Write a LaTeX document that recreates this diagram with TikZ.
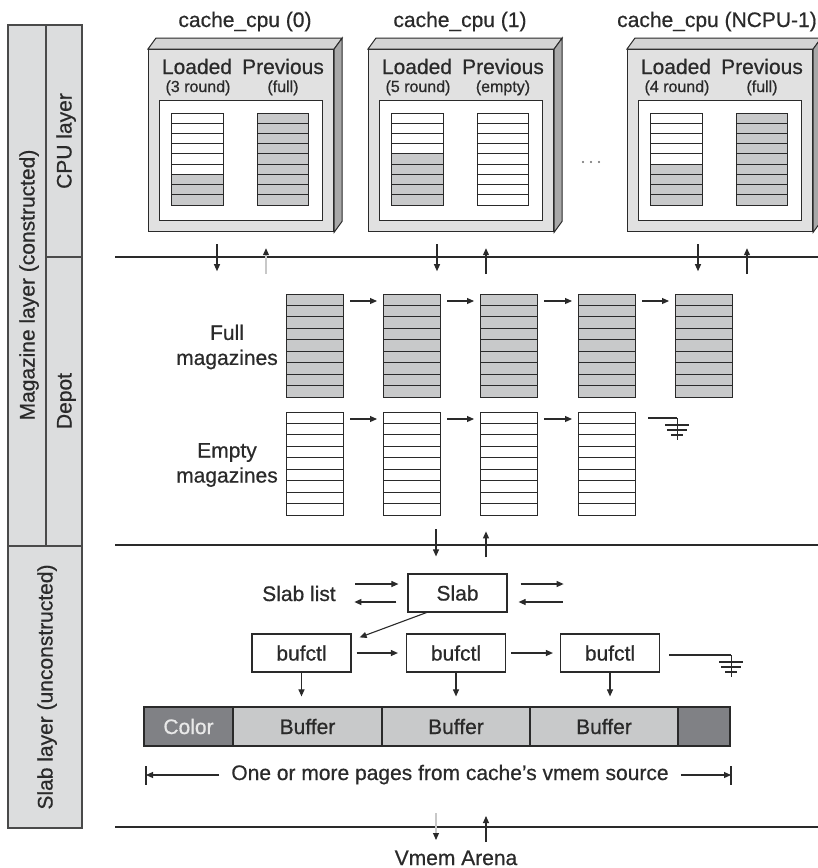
\documentclass[tikz,border=0pt]{standalone}
\usepackage{fontspec}
\setmainfont{Liberation Sans}[UprightFeatures={FakeBold=0.6}]
\usetikzlibrary{arrows.meta,calc}

\definecolor{ink}{HTML}{2A2A2A}
\definecolor{panel}{HTML}{DCDDDE}
\definecolor{panelline}{HTML}{4A4A4A}
\definecolor{frontface}{HTML}{E1E1E1}
\definecolor{topface}{HTML}{D4D4D4}
\definecolor{sideface}{HTML}{A8A8A8}
\definecolor{magfill}{HTML}{C8C9CA}
\definecolor{colorcell}{HTML}{808185}
\definecolor{colortext}{HTML}{E8E8E8}
\definecolor{faint}{HTML}{C8C8C8}

% A magazine: nine rounds stacked top to bottom, the lowest #6 of them loaded (grey).
% #1 name, #2 left, #3 top, #4 width, #5 height, #6 loaded rounds
\newcommand\magstack[6]{%
  \foreach \k in {0,...,8}{%
    \pgfmathsetmacro\ya{#3+\k*#5/9}%
    \pgfmathsetmacro\yb{#3+(\k+1)*#5/9}%
    \ifnum\k<\numexpr9-#6\relax\def\rowfill{white}\else\def\rowfill{magfill}\fi
    \filldraw[magrow, fill=\rowfill] (#2,\ya) rectangle (#2+#4,\yb);
  }%
  \node[magframe, minimum width=#4pt, minimum height=#5pt, anchor=north west] (#1) at (#2,#3) {};%
}

% A per-CPU cache drawn as a bevelled box holding the loaded and previous magazines.
% #1 name, #2 left edge, #3 title, #4 title centre, #5 loaded note, #6 previous note,
% #7 rounds in loaded, #8 rounds in previous
\newcommand\cpubox[8]{%
  \node[cpufront, anchor=north west] (#1) at (#2,49) {};
  \filldraw[cpuedge, fill=topface] (#1.north west) -- ++(8,-11) -- ($(#1.north east)+(8,-11)$) -- (#1.north east) -- cycle;
  \filldraw[cpuedge, fill=sideface] (#1.north east) -- ++(8,-11) -- ($(#1.south east)+(8,-11)$) -- (#1.south east) -- cycle;
  \node[cpuinner, anchor=north west] (#1in) at (#2+11,100) {};
  \magstack{#1ld}{#2+23}{113}{52}{92}{#7}
  \magstack{#1pv}{#2+109}{113}{51}{92}{#8}
  \node[big, anchor=base] (#1t) at (#4,27) {#3};
  \node[big, anchor=base] (#1lt) at (#2+49,74) {Loaded};
  \node[big, anchor=base] (#1pt) at (#2+135,74) {Previous};
  \node[small, anchor=base] (#1ls) at (#2+50,92) {#5};
  \node[small, anchor=base] (#1ps) at (#2+135,92) {#6};
}

\begin{document}
\begin{tikzpicture}[x=1pt, y=-1pt,
  big/.style={font=\fontsize{21}{25}\selectfont, text=ink, inner sep=0pt},
  small/.style={font=\fontsize{16}{19}\selectfont, text=ink, inner sep=0pt},
  ln/.style={draw=ink, line width=1.2pt},
  panelln/.style={draw=panelline, line width=1.2pt},
  arr/.style={draw=ink, line width=1.1pt, -{Triangle[length=7pt,width=6pt]}},
  farr/.style={draw=faint, line width=1.1pt, -{Triangle[length=7pt,width=6pt,color=ink]}},
  magrow/.style={draw=ink, line width=1pt},
  magframe/.style={draw=ink, line width=1.2pt, inner sep=0pt},
  cpufront/.style={draw=ink, line width=1.2pt, fill=frontface, minimum width=185pt, minimum height=182pt, inner sep=0pt},
  cpuedge/.style={draw=ink, line width=1pt},
  cpuinner/.style={draw=ink, line width=1.2pt, fill=white, minimum width=163pt, minimum height=120pt, inner sep=0pt},
  boxn/.style={draw=ink, line width=1.2pt, fill=white, minimum width=99pt, minimum height=38pt, inner sep=0pt, font=\fontsize{21}{25}\selectfont, text=ink},
  cell/.style={draw=ink, line width=1.2pt, fill=magfill, minimum height=39pt, inner sep=0pt, font=\fontsize{21}{25}\selectfont, text=ink},
  ground/.pic={
    \draw[draw=ink, line width=1.1pt] (0,0) -- (0,22);
    \draw[draw=ink, line width=1.1pt] (-12,7) -- (12,7);
    \draw[draw=ink, line width=1.1pt] (-10,12) -- (10,12);
    \draw[draw=ink, line width=1.1pt] (-6,17) -- (6,17);
  }]
\useasboundingbox (0,0) rectangle (818,868);
\fill[white] (0,0) rectangle (818,868);

% ---- layer labels down the left side ----
\filldraw[panelln, fill=panel] (8,25) rectangle (82,828);
\draw[panelln] (46,25) -- (46,546);
\draw[panelln] (46,257) -- (82,257);
\draw[panelln] (8,546) -- (82,546);
\node[big, rotate=90, anchor=base] (maglayer) at (34.5,285) {Magazine layer (constructed)};
\node[big, rotate=90, anchor=base] (cpulayer) at (71.5,141) {CPU layer};
\node[big, rotate=90, anchor=base] (depotlayer) at (71.5,401) {Depot};
\node[big, rotate=90, anchor=base] (slablayer) at (52.5,687) {Slab layer (unconstructed)};

% ---- layer boundaries ----
\draw[ln] (115,257) -- (818,257);
\draw[ln] (115,545) -- (818,545);
\draw[ln] (115,827) -- (818,827);

% ---- CPU layer ----
\cpubox{c0}{148}{cache\_cpu (0)}{245}{(3 round)}{(full)}{3}{9}
\cpubox{c1}{368}{cache\_cpu (1)}{460}{(5 round)}{(empty)}{5}{0}
\cpubox{c2}{627}{cache\_cpu (NCPU-1)}{717}{(4 round)}{(full)}{4}{9}

\fill[ink!70] (583,162) circle (1.1);
\fill[ink!70] (591,162) circle (1.1);
\fill[ink!70] (599,162) circle (1.1);

% exchanges between each CPU cache and the depot
\draw[arr]  ($(c0.south west)+(69,12)$) -- ($(c0.south west)+(69,39)$);
\draw[farr] ($(c0.south west)+(118,42)$) -- ($(c0.south west)+(118,16)$);
\draw[arr]  ($(c1.south west)+(69,12)$) -- ($(c1.south west)+(69,39)$);
\draw[arr]  ($(c1.south west)+(118,42)$) -- ($(c1.south west)+(118,16)$);
\draw[arr]  ($(c2.south west)+(71,12)$) -- ($(c2.south west)+(71,39)$);
\draw[arr]  ($(c2.south west)+(120,42)$) -- ($(c2.south west)+(120,16)$);

% ---- Depot ----
\node[big, align=center] (fulllbl) at (227,347) {Full\\magazines};
\node[big, align=center] (emptylbl) at (227,465) {Empty\\magazines};

\magstack{f1}{286}{294}{57}{103}{9}
\magstack{f2}{383}{294}{57}{103}{9}
\magstack{f3}{480}{294}{57}{103}{9}
\magstack{f4}{578}{294}{57}{103}{9}
\magstack{f5}{675}{294}{57}{103}{9}

\magstack{e1}{286}{412}{57}{103}{0}
\magstack{e2}{383}{412}{57}{103}{0}
\magstack{e3}{480}{412}{57}{103}{0}
\magstack{e4}{578}{412}{57}{103}{0}

\foreach \a/\b in {f1/f2, f2/f3, f3/f4, f4/f5, e1/e2, e2/e3, e3/e4}
  \draw[arr] ($(\a.north east)+(6,7)$) -- ($(\b.north west)+(-6,7)$);

\coordinate (g1) at ($(e4.north east)+(41,6)$);
\draw[ln, line width=1.1pt] ($(e4.north east)+(12,6)$) -- (g1);
\pic at (g1) {ground};

% ---- Slab layer ----
\node[boxn] (slab) at (457.5,593) {Slab};
\node[big, anchor=base] (slablist) at (299,601) {Slab list};

\draw[arr] ($(slab.north)+(-21.5,-44)$) -- ($(slab.north)+(-21.5,-17)$);
\draw[arr] ($(slab.north)+(28.5,-16)$) -- ($(slab.north)+(28.5,-42)$);

\draw[arr] ($(slab.west)+(-52,-9)$) -- ($(slab.west)+(-9,-9)$);
\draw[arr] ($(slab.west)+(-11,9)$) -- ($(slab.west)+(-53,9)$);
\draw[arr] ($(slab.east)+(13,-9)$) -- ($(slab.east)+(56,-9)$);
\draw[arr] ($(slab.east)+(55,9)$) -- ($(slab.east)+(11,9)$);

\node[boxn] (b1) at (301.5,653) {bufctl};
\node[boxn] (b2) at (456,653) {bufctl};
\node[boxn] (b3) at (610,653) {bufctl};

\draw[arr] ($(slab.south west)+(19,0)$) -- ($(b1.north east)+(8,4)$);
\draw[arr, shorten <=5pt, shorten >=8pt] (b1.east) -- (b2.west);
\draw[arr, shorten <=5pt, shorten >=7pt] (b2.east) -- (b3.west);

\coordinate (g2) at ($(b3.east)+(71,2)$);
\draw[ln, line width=1.1pt] ($(b3.east)+(9,2)$) -- (g2);
\pic at (g2) {ground};

% slab memory: colour offset, buffers and unused tail
\node[cell, fill=colorcell, text=colortext, minimum width=89pt] (colorc) at (188.5,726.5) {Color};
\node[cell, minimum width=149pt] (buf1) at (307.5,726.5) {Buffer};
\node[cell, minimum width=148pt] (buf2) at (456,726.5) {Buffer};
\node[cell, minimum width=148pt] (buf3) at (604,726.5) {Buffer};
\node[cell, fill=colorcell, minimum width=52pt] (tail) at (704,726.5) {};

\draw[arr, shorten >=10pt] (b1.south) -- (b1.south |- buf1.north);
\draw[arr, shorten >=10pt] (b2.south) -- (b2.south |- buf2.north);
\draw[arr, shorten >=10pt] (b3.south) -- (b3.south |- buf3.north);

% extent of the slab's pages
\coordinate (dimL) at (146,775);
\coordinate (dimR) at (731,775);
\draw[ln, line width=1.1pt] (146,766) -- (146,785);
\draw[ln, line width=1.1pt] (731,766) -- (731,785);
\node[big, anchor=base, inner xsep=12pt] (dim) at (450,780) {One or more pages from cache’s vmem source};
\draw[arr] (dim.west |- dimL) -- (dimL);
\draw[arr] (dim.east |- dimR) -- (dimR);

% ---- backing arena ----
\draw[farr] (436,813) -- (436,840);
\draw[arr]  (486,842) -- (486,816);
\node[big, anchor=base] (vmem) at (456,865) {Vmem Arena};

\end{tikzpicture}
\end{document}
